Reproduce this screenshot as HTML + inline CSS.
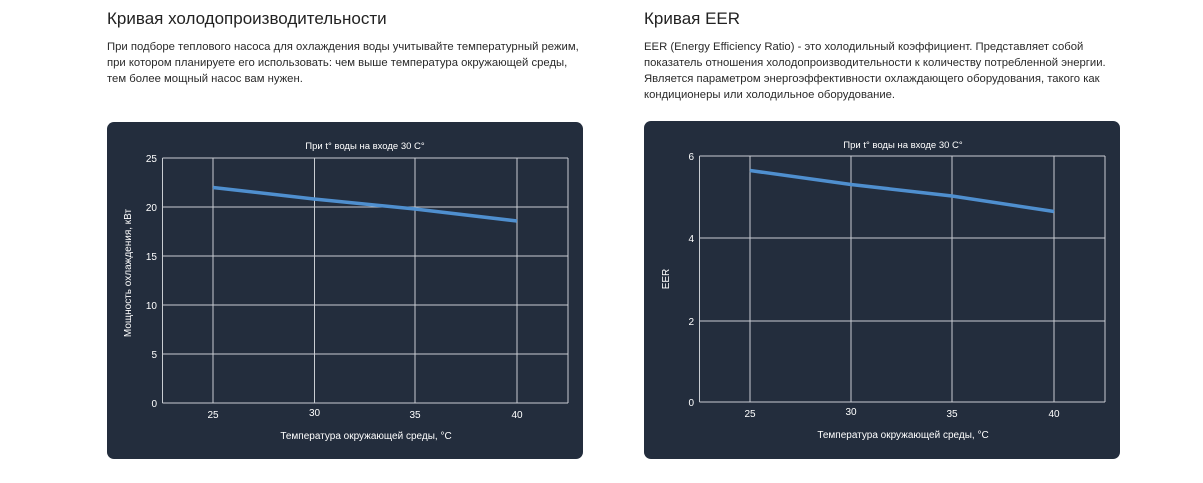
<!DOCTYPE html>
<html><head><meta charset="utf-8"><style>
body{margin:0;width:1203px;height:483px;background:#fff;font-family:"Liberation Sans",sans-serif;position:relative;overflow:hidden}
h2{position:absolute;margin:0;font-weight:normal;font-size:17px;color:#222}
p{position:absolute;margin:0;font-size:11.3px;line-height:16px;color:#2a2a2a;white-space:nowrap}
.panel{position:absolute;background:#232d3d;border-radius:7px}
svg{position:absolute;left:0;top:0}
</style></head><body>
<h2 style="left:107px;top:9px">Кривая холодопроизводительности</h2>
<p style="left:107px;top:39px">При подборе теплового насоса для охлаждения воды учитывайте температурный режим,<br>при котором планируете его использовать: чем выше температура окружающей среды,<br>тем более мощный насос вам нужен.</p>
<h2 style="left:644px;top:9px">Кривая EER</h2>
<p style="left:644px;top:39px">EER (Energy Efficiency Ratio) - это холодильный коэффициент. Представляет собой<br>показатель отношения холодопроизводительности к количеству потребленной энергии.<br>Является параметром энергоэффективности охлаждающего оборудования, такого как<br>кондиционеры или холодильное оборудование.</p>
<div class="panel" style="left:107px;top:122px;width:476px;height:337px"></div>
<div class="panel" style="left:644px;top:121px;width:476px;height:338px"></div>
<svg width="1203" height="483" font-family="Liberation Sans, sans-serif" font-size="10" fill="#fff">
<g stroke="#c8ccd2" stroke-width="1" fill="none">
<path d="M162.5 158H568M162.5 207H568M162.5 256H568M162.5 305H568M162.5 354H568M162.5 403H568M162.5 158V403M568 158V403M213 158V403M314.5 158V403M415 158V403M517 158V403"/>
<path d="M699.5 156H1105M699.5 238H1105M699.5 321H1105M699.5 402H1105M699.5 156V402M1105 156V402M750 156V402M851 156V402M952 156V402M1054 156V402"/>
</g>
<polyline points="213,187.5 314,199 415,209 517,221" stroke="#4f8fcf" stroke-width="3.5" fill="none"/>
<polyline points="750,170.5 851,184.5 952,196 1054,211.5" stroke="#4f8fcf" stroke-width="3.5" fill="none"/>
<g font-size="9.5">
<text x="365" y="149" text-anchor="middle">При t° воды на входе 30 C°</text>
<text x="903" y="148" text-anchor="middle">При t° воды на входе 30 C°</text>
</g>
<g text-anchor="end">
<text x="157" y="162">25</text><text x="157" y="211">20</text><text x="157" y="260">15</text><text x="157" y="309">10</text><text x="157" y="358">5</text><text x="157" y="407">0</text>
<text x="694" y="160">6</text><text x="694" y="242">4</text><text x="694" y="325">2</text><text x="694" y="406">0</text>
</g>
<g text-anchor="middle">
<text x="213" y="418">25</text><text x="314.5" y="416">30</text><text x="415" y="418">35</text><text x="517" y="418">40</text>
<text x="750" y="417">25</text><text x="851" y="415">30</text><text x="952" y="417">35</text><text x="1054" y="417">40</text>
<text x="366" y="439">Температура окружающей среды, °C</text>
<text x="903" y="438">Температура окружающей среды, °C</text>
<text transform="translate(131,273) rotate(-90)">Мощность охлаждения, кВт</text>
<text transform="translate(669,279) rotate(-90)">EER</text>
</g>
</svg>
</body></html>
